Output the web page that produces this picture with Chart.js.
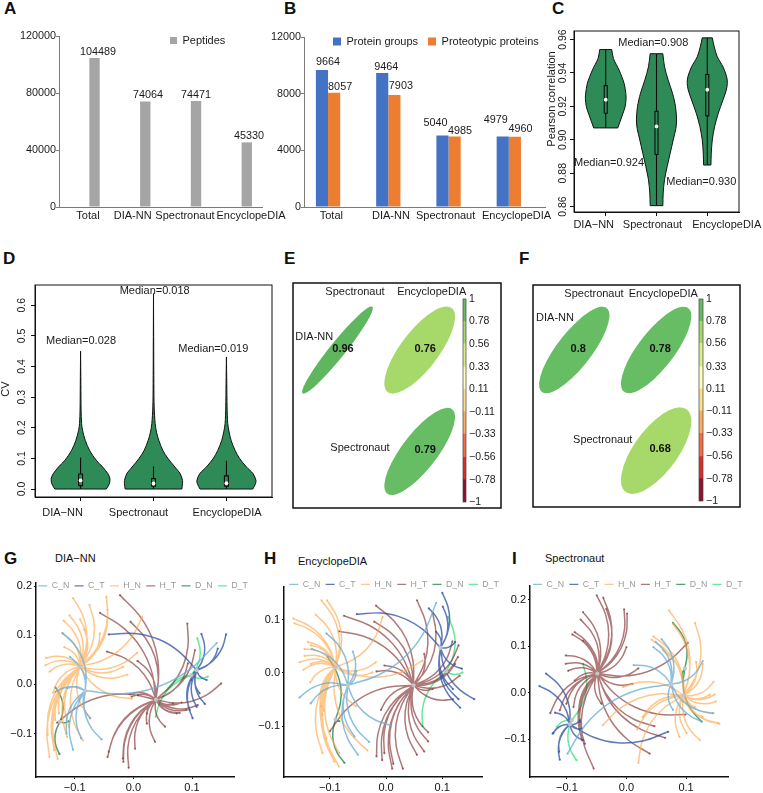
<!DOCTYPE html>
<html><head><meta charset="utf-8">
<style>
html,body{margin:0;padding:0;background:#fff;width:763px;height:793px;overflow:hidden;position:relative}
canvas{position:absolute}
.t{position:absolute;white-space:pre;line-height:1;font-family:"Liberation Sans",Arial,sans-serif;color:#111}
</style>
<script src="https://cdn.jsdelivr.net/npm/chart.js@4/dist/chart.umd.min.js"></script>
</head><body>
<script>
// ---------- data ----------
const tools = ['Total','DIA-NN','Spectronaut','EncyclopeDIA'];
const peptides = [104489,74064,74471,45330];
const proteinGroups = [9664,9464,5040,4979];
const proteotypic = [8057,7903,4985,4960];
const rTools = ['DIA\u2212NN','Spectronaut','EncyclopeDIA'];

const cY1=[.954,.9487,.9417,.9338,.9278,.9248,.9198,.9149,.9071];
const cW1=[.118,.151,.263,.362,.395,.401,.382,.329,.237];
const cY2=[.9515,.9437,.9357,.9278,.9198,.9119,.9069,.8999,.892,.8841,.8761,.8682,.8606];
const cW2=[.125,.158,.23,.316,.375,.395,.382,.329,.27,.211,.158,.132,.125];
const cY3=[.961,.9556,.9497,.9437,.9377,.9338,.9298,.9238,.9159,.9079,.8999,.892,.8849];
const cW3=[.099,.138,.197,.309,.382,.395,.375,.309,.217,.145,.099,.079,.072];
const cMedian=[.924,.908,.930], cQ1=[.9159,.8912,.9143], cQ3=[.9324,.9171,.9391];

const dY1=[0,.017,.034,.05,.072,.094,.126,.159,.192,.214,.258,.342,.45];
const dW1=[.353,.394,.403,.375,.302,.215,.124,.064,.027,.014,.007,.004,0];
const dY2=[0,.017,.028,.05,.072,.099,.126,.159,.186,.214,.268,.344,.453,.638];
const dW2=[.389,.398,.398,.366,.293,.201,.128,.073,.041,.023,.009,.005,.003,0];
const dY3=[0,.017,.028,.05,.072,.099,.126,.159,.186,.214,.268,.344,.431];
const dW3=[.362,.398,.405,.366,.275,.183,.119,.064,.037,.018,.009,.005,0];
const dMedian=[.028,.018,.019], dQ1=[.011,.009,.009], dQ3=[.049,.034,.043], dWhisk=[.103,.074,.092];

const corrE=[.96,.76,.79], corrF=[.8,.78,.68];
const corrCol=[1,2,2], corrRow=[1,1,2];
const corrColorsE=['#5fb65f','#a6d96a','#66bd63'], corrColorsF=['#66bd63','#66bd63','#a6d96a'];
const barBreaks=[-1,-.78,-.56,-.33,-.11,.11,.33,.56,.78,1];
const barTicks=['\u22121','\u22120.78','\u22120.56','\u22120.33','\u22120.11','0.11','0.33','0.56','0.78','1'];
const barColors=['#8f0f2e','#d73027','#f46d43','#fdae61','#fee08b','#ffffbf','#d9ef8b','#a6d96a','#66bd63'];

const seriesNames=['C_N','C_T','H_N','H_T','D_N','D_T'];
const seriesColors=['rgba(107,174,214,.78)','rgba(50,85,165,.78)','rgba(253,172,85,.68)','rgba(125,38,38,.62)','rgba(46,139,87,.82)','rgba(70,232,138,.85)'];

const gHubs=[[-.082,-.013],[.108,.029],[-.091,.037],[.0385,-.031],[-.125,-.076],[.099,.019]];
const gCN=[[-.121,.105],[-.108,.056],[.142,.084],[-.133,-.015],[-.113,-.008],[-.054,-.112],[-.103,-.133],[-.089,-.11],[-.114,-.1],[-.074,-.069]];
const gCT=[[-.042,.102],[.116,.103],[.158,.102],[.144,.073],[.099,.009],[.101,-.069],[.122,-.04],[.108,-.046],[.113,-.018],[.096,-.052],[.125,.009]];
const gHN=[[-.103,.176],[-.119,.13],[-.121,.104],[-.109,.141],[-.091,.133],[-.075,.162],[-.046,.179],[-.044,.152],[-.084,.112],[-.057,.104],[.015,.137],[.007,.065],[-.01,.02],[-.017,.036],[-.118,.076],[-.149,.054],[-.15,.039],[-.143,.026],[-.137,-.017],[-.146,-.103],[-.143,-.148],[-.129,-.152],[-.135,-.134],[-.113,-.107],[-.086,-.114],[-.073,-.069],[-.003,-.029],[-.133,-.073],[-.127,-.059],[-.136,-.114],[-.11,-.086]];
const gHT=[[-.023,.182],[-.057,.146],[-.005,.128],[-.045,.067],[.007,.048],[.092,.124],[.105,.07],[.093,.043],[.15,.002],[.11,-.042],[.091,-.052],[.074,-.059],[.082,-.037],[.079,-.058],[.054,-.086],[.037,-.117],[.023,-.08],[.003,-.131],[-.008,-.17],[-.017,-.158],[-.018,-.151],[-.044,-.148],[-.042,-.137],[-.006,-.02],[.008,-.022],[-.13,-.078],[-.003,-.025],[.068,-.039],[.023,-.059]];
const gDN=[[-.133,-.006],[-.126,-.142],[-.11,-.075]];
const gDT=[[.109,.094],[.051,-.025],[.127,.016],[.038,-.066]];

const hHubs=[[-.068,-.023],[.097,.047],[-.09,.011],[.049,-.023],[-.09,-.087],[.107,.003]];
const hCN=[[.089,.131],[-.106,.074],[-.059,.04],[-.132,.045],[-.154,-.046],[-.134,-.057],[.009,-.098],[-.03,-.129],[-.05,-.153],[-.056,-.119],[-.053,.004]];
const hCT=[[-.052,.11],[.1,.15],[.076,.121],[.101,.124],[.123,.058],[.135,.008],[.157,-.049],[.132,-.065],[.129,-.049],[.119,-.03],[.089,.077]];
const hHN=[[-.115,.136],[-.105,.136],[-.125,.109],[-.165,.102],[-.163,.093],[-.006,.105],[-.139,.058],[-.134,.052],[-.145,.045],[-.145,.032],[-.154,.02],[-.134,.017],[-.147,.006],[-.135,-.018],[-.018,.02],[-.024,.001],[.065,.023],[-.116,-.062],[-.11,-.071],[-.113,-.15],[-.092,-.166],[-.084,-.175],[-.106,-.122],[-.033,-.145],[-.053,-.062],[-.083,-.15],[-.104,-.03],[-.113,-.078]];
const hHT=[[.055,.136],[-.018,.126],[-.075,.107],[-.021,.096],[-.084,.078],[-.003,.014],[-.017,.003],[.083,.112],[.068,.036],[.118,.059],[.129,.052],[.128,.03],[.123,.017],[.119,-.049],[.131,-.005],[.083,-.03],[-.009,-.069],[-.1,-.109],[.075,-.128],[.075,-.111],[.068,-.147],[.055,-.153],[.03,-.179],[.011,-.179],[.013,-.17],[-.007,-.163],[-.017,-.156],[-.003,-.15]];
const hDN=[[-.104,.03],[-.074,-.168],[-.083,-.09]];
const hDT=[[.11,.105],[.136,.001],[.065,-.1]];

const iHubs=[[.075,.018],[-.095,-.068],[.096,-.006],[-.049,.041],[.098,.052],[-.092,-.059]];
const iCN=[[.128,.068],[.012,.059],[.059,.115],[.049,.109],[.078,-.037],[.145,-.044],[.126,-.062],[-.099,-.131],[.045,.098]];
const iCT=[[-.135,.041],[-.146,.014],[-.12,-.043],[-.124,-.088],[-.123,-.087],[-.113,-.127],[-.112,-.144],[.07,-.084],[-.078,-.059],[-.073,-.102],[-.075,-.077]];
const iHN=[[.071,.177],[.115,.15],[.045,.121],[.042,.114],[.078,.148],[.061,.091],[.128,.062],[.146,.023],[.148,-.004],[.15,-.019],[.14,-.004],[.146,-.044],[.156,-.067],[.154,-.065],[.123,-.102],[.089,-.095],[.101,-.087],[.02,-.151],[-.04,-.07],[.018,-.079],[-.006,.012],[.027,-.052],[.117,.066],[.115,-.031],[.128,-.052]];
const iHT=[[-.05,.209],[-.039,.204],[-.034,.18],[-.073,.173],[-.077,.157],[-.004,.179],[.001,.17],[0,.098],[-.087,.13],[-.091,.125],[-.073,.112],[-.102,.08],[-.102,.062],[-.098,.047],[-.087,.026],[.01,.019],[.02,.052],[.103,.107],[.099,-.047],[.047,-.072],[.065,-.097],[.039,-.131],[-.042,-.024],[-.055,-.163],[-.07,-.11],[-.075,-.102],[-.128,-.044],[-.112,-.038],[-.101,-.024],[-.089,-.031],[-.078,-.063]];
const iDN=[[.078,.15],[.126,-.062],[.095,.026]];
const iDT=[[-.073,.062],[-.084,-.145],[-.117,-.074]];

// ---------- helpers ----------
const FONT='"Liberation Sans",Arial,sans-serif';
Chart.defaults.font.family=FONT; Chart.defaults.font.size=11; Chart.defaults.color='#1a1a1a';
Chart.defaults.animation=false; Chart.defaults.responsive=false;
Chart.defaults.plugins.tooltip.enabled=false;
Chart.defaults.plugins.legend.display=false;
Chart.defaults.events=[];

function dom(text,x,base,size,bold){const d=document.createElement('div');d.className='t';d.textContent=text;
 d.style.left=x+'px';d.style.top=(base-.8465*size)+'px';d.style.fontSize=size+'px';if(bold)d.style.fontWeight='bold';document.body.appendChild(d);}
function place(r,m){const c=document.createElement('canvas');const ox=r.l-m.l,oy=r.t-m.t;
 c.width=r.r-r.l+m.l+m.r;c.height=r.b-r.t+m.t+m.b;c.style.left=ox+'px';c.style.top=oy+'px';document.body.appendChild(c);
 return {c,ox,oy,m};}
const fixY=w=>s=>{s.width=w;s.paddingTop=s.paddingBottom=0;};
const fixX=h=>s=>{s.height=h;s.paddingLeft=s.paddingRight=0;};
const texts=(o,items)=>({id:'texts',afterDatasetsDraw(ch){const x=ch.ctx;items.forEach(t=>{x.save();
  x.font=(t.bold?'bold ':'')+(t.size||11)+'px '+FONT;x.fillStyle=t.color||'#1a1a1a';x.textAlign='center';x.textBaseline='middle';
  x.translate(t.x-o.ox,t.y-o.oy);if(t.rot)x.rotate(t.rot);x.fillText(t.s,0,0);x.restore();});}});
const frame=(w,color)=>({id:'frame',afterDraw(ch){const a=ch.chartArea,x=ch.ctx;x.save();x.lineWidth=w;x.strokeStyle=color||'#111';
  x.strokeRect(a.left,a.top,a.right-a.left,a.bottom-a.top);x.restore();}});
const polyFill={id:'polyFill',beforeDatasetDraw(ch,{meta}){const col=meta._dataset.polyFill;if(!col)return;const x=ch.ctx;
  meta.dataset.updateControlPoints(ch.chartArea);x.save();x.beginPath();meta.dataset.path(x);x.closePath();x.fillStyle=col;x.fill();x.restore();}};
const nudge=(id,fn)=>({id:'nudge'+id,beforeDraw(ch){const items=ch.scales[id].getLabelItems();if(items._n)return;items._n=1;items.forEach(fn);}});
const pinLegend=(o,x,y)=>({id:'pinLegend',
  beforeLayout(ch){const l=ch.legend;if(l._w)return;l._w=1;const f=l.fit.bind(l);l.fit=function(){f();l.height=0;};},
  afterLayout(ch){const l=ch.legend;l.left=x-o.ox-l.options.labels.padding;l.right=l.left+2000;l.top=y-o.oy-l.options.labels.padding;l.bottom=l.top+60;}});
const barLabels=(spec)=>({id:'barLabels',afterDatasetsDraw(ch){const x=ch.ctx;x.save();x.font='10.8px '+FONT;x.fillStyle='#1a1a1a';x.textAlign='center';x.textBaseline='middle';
  spec.forEach(s=>{const m=ch.getDatasetMeta(s.ds);ch.data.datasets[s.ds].data.forEach((v,i)=>{const e=m.data[i];x.fillText(String(v),e.x+s.dx[i],e.y+s.dy[i]);});});x.restore();}});

// ---------- panel letters and titles ----------
[['A',4,14],['B',284,14],['C',552,14],['D',3,264],['E',284,264],['F',519,264],['G',4,564],['H',264,564],['I',512,564]].forEach(a=>dom(a[0],a[1],a[2],17,true));
dom('DIA\u2212NN',55,562.5,11);dom('EncyclopeDIA',298,565.5,11);dom('Spectronaut',545,562,11);

// ---------- A and B ----------
const AXIS='#7a7a7a';
function barAxis(max,step,w,h){return {
  x:{type:'category',afterFit:fixX(h),grid:{display:false,drawTicks:false},border:{color:AXIS,width:1},ticks:{autoSkip:false,maxRotation:0,minRotation:0,padding:2,font:{size:11}}},
  y:{min:0,max,afterFit:fixY(w),afterBuildTicks:s=>{const t=[];for(let v=0;v<=max;v+=step)t.push({value:v});s.ticks=t;},
     grid:{drawOnChartArea:false,tickLength:3,color:AXIS},border:{color:AXIS,width:1},ticks:{padding:0,font:{size:10.8},callback:v=>String(v)}}};}
(function(){const r={l:59,t:36,r:262,b:207},m={l:50,t:6,r:30,b:24},o=place(r,m);
 const dx=[3.6,-2.4,-.9,14.4];
 new Chart(o.c,{type:'bar',data:{labels:tools,datasets:[
   {label:'',data:[null,null,null,null],backgroundColor:'transparent'},
   {label:'Peptides',data:peptides,backgroundColor:'#a5a5a5',borderWidth:0}]},
  options:{categoryPercentage:.8,barPercentage:.51,layout:{padding:{top:m.t,right:m.r}},scales:barAxis(120000,40000,m.l,m.b),
   plugins:{legend:{display:true,position:'top',align:'start',labels:{boxWidth:7,boxHeight:7,padding:10,font:{size:11},filter:i=>!!i.text}}}},
  plugins:[pinLegend(o,170,35),barLabels([{ds:1,dx:[3.4,2.7,0,2.3],dy:[-6,-6,-6,-6]}]),nudge('x',(it,i)=>{it.options.translation[0]+=dx[i];})]});
})();
(function(){const r={l:304,t:37,r:545,b:207},m={l:40,t:6,r:8,b:24},o=place(r,m);
 const dx=[-2.8,-3.4,-9,1.7];
 new Chart(o.c,{type:'bar',data:{labels:tools,datasets:[
   {label:'Protein groups',data:proteinGroups,backgroundColor:'#4472c4',borderWidth:0},
   {label:'Proteotypic proteins',data:proteotypic,backgroundColor:'#ed7d31',borderWidth:0},
   {label:'',data:[null,null,null,null],backgroundColor:'transparent'}]},
  options:{categoryPercentage:.605,barPercentage:1,layout:{padding:{top:m.t,right:m.r}},scales:barAxis(12000,4000,m.l,m.b),
   plugins:{legend:{display:true,position:'top',align:'start',labels:{boxWidth:8,boxHeight:8,padding:10,font:{size:11},filter:i=>!!i.text}}}},
  plugins:[pinLegend(o,333,36),
   barLabels([{ds:0,dx:[6,4,-7,-7],dy:[-8,-6,-12.6,-16]},{ds:1,dx:[6,6.5,5.3,5.7],dy:[-6,-8.7,-5.7,-7.5]}]),
   nudge('x',(it,i)=>{it.options.translation[0]+=dx[i];})]});
})();

// ---------- violins C and D ----------
function violinOutline(cx,ys,ws){const a=[];const n=ys.length;
 a.push({x:cx+ws[0],y:ys[0]});ys.forEach((y,i)=>a.push({x:cx+ws[i],y}));a.push({x:cx+ws[n-1],y:ys[n-1]});
 a.push({x:cx-ws[n-1],y:ys[n-1]});for(let i=n-1;i>=0;i--)a.push({x:cx-ws[i],y:ys[i]});a.push({x:cx-ws[0],y:ys[0]});a.push({x:cx+ws[0],y:ys[0]});return a;}
function violinSets(viol,med,q1,q3,wLo,wHi,bw){const ds=[];
 ds.push({data:med.map((v,i)=>({x:i+1,y:v})),showLine:false,pointRadius:1.9,pointBackgroundColor:'#fff',pointBorderWidth:0,clip:false});
 med.forEach((v,i)=>{const c=i+1;ds.push({data:[{x:c-bw,y:q1[i]},{x:c+bw,y:q1[i]},{x:c+bw,y:q3[i]},{x:c-bw,y:q3[i]},{x:c-bw,y:q1[i]}],showLine:true,polyFill:'#2e8b57',borderColor:'#0c0c0c',borderWidth:1.1,pointRadius:0,tension:0});});
 med.forEach((v,i)=>{ds.push({data:[{x:i+1,y:wLo[i]},{x:i+1,y:wHi[i]}],showLine:true,borderColor:'#0c0c0c',borderWidth:1.1,pointRadius:0,tension:0});});
 viol.forEach(a=>ds.push({data:a,showLine:true,polyFill:'#2e8b57',borderColor:'#111',borderWidth:1,pointRadius:0,tension:.3,capBezierPoints:false,clip:false}));
 return ds;}
function rAxes(m,ymin,ymax,yticks,fmt){return {
  x:{type:'linear',min:.375,max:3.625,afterFit:fixX(m.b),afterBuildTicks:s=>{s.ticks=rTools.map((n,i)=>({value:i+1}));},
     grid:{drawOnChartArea:false,tickLength:4,color:'#111'},border:{color:'#111',width:1},
     ticks:{autoSkip:false,maxRotation:0,padding:2,font:{size:11},callback:v=>rTools[v-1]}},
  y:{min:ymin,max:ymax,afterFit:fixY(m.l),afterBuildTicks:s=>{s.ticks=yticks.map(v=>({value:v}));},
     grid:{drawOnChartArea:false,tickLength:4,color:'#111'},border:{color:'#111',width:1},
     ticks:{autoSkip:false,padding:2,font:{size:10.5},callback:fmt}}};}
const rotY=(o,px)=>nudge('y',it=>{it.options.rotation=-Math.PI/2;it.options.textAlign='center';it.options.textBaseline='middle';it.textOffset=0;it.options.translation=[px-o.ox,it.options.translation[1]];});
(function(){const r={l:574,t:31,r:739,b:212},m={l:30,t:4,r:24,b:20},o=place(r,m);
 const dx=[-12,-4,19.4];
 new Chart(o.c,{type:'scatter',data:{datasets:violinSets([violinOutline(1,cY1,cW1),violinOutline(2,cY2,cW2),violinOutline(3,cY3,cW3)],cMedian,cQ1,cQ3,[cY1[8],cY2[12],cY3[12]],[cY1[0],cY2[0],cY3[0]],.03)},
  options:{layout:{padding:{top:m.t,right:m.r}},scales:rAxes(m,.8568,.9651,[.86,.88,.90,.92,.94,.96],v=>v.toFixed(2))},
  plugins:[polyFill,frame(1),rotY(o,563),nudge('x',(it,i)=>{it.options.translation[0]+=dx[i];}),
   texts(o,[{s:'Pearson correlation',x:552,y:99,rot:-Math.PI/2},{s:'Median=0.908',x:653.3,y:43.3},{s:'Median=0.924',x:609,y:162.7},{s:'Median=0.930',x:701.3,y:182.3}])]});
})();
(function(){const r={l:35,t:285,r:272,b:497},m={l:34,t:4,r:10,b:24},o=place(r,m);
 const dx=[-18,-15,.7];
 new Chart(o.c,{type:'scatter',data:{datasets:violinSets([violinOutline(1,dY1,dW1),violinOutline(2,dY2,dW2),violinOutline(3,dY3,dW3)],dMedian,dQ1,dQ3,[0,0,0],dWhisk,.027)},
  options:{layout:{padding:{top:m.t,right:m.r}},scales:rAxes(m,-.026,.666,[0,.1,.2,.3,.4,.5,.6],v=>v.toFixed(1))},
  plugins:[polyFill,frame(1),rotY(o,22),nudge('x',(it,i)=>{it.options.translation[0]+=dx[i];it.options.translation[1]+=3;}),
   texts(o,[{s:'CV',x:6,y:389,rot:-Math.PI/2},{s:'Median=0.028',x:81,y:340.7},{s:'Median=0.018',x:154.7,y:291},{s:'Median=0.019',x:213.3,y:349}])]});
})();

// ---------- correlation ellipses E and F ----------
function corrPanel(rect,xr,yr,vals,colors,labs,lx,ly){
 const m={l:1,t:1,r:1,b:1},o=place(rect,m);
 const ell={id:'ell',afterDatasetsDraw(ch){const x=ch.ctx,meta=ch.getDatasetMeta(0),sx=ch.scales.x,sy=ch.scales.y;
   const a=(sx.getPixelForValue(1.43)-sx.getPixelForValue(1)),b=(sy.getPixelForValue(1.43)-sy.getPixelForValue(1));
   vals.forEach((v,i)=>{const p=meta.data[i],d=Math.acos(v)/2;x.save();x.translate(p.x,p.y);x.scale(a,b);x.rotate(-Math.PI/4);x.beginPath();
     x.ellipse(0,0,Math.SQRT2*Math.cos(d),Math.SQRT2*Math.sin(d),0,0,Math.PI*2);x.restore();x.fillStyle=colors[i];x.fill();
     x.font='bold 11px '+FONT;x.fillStyle='#111';x.textAlign='center';x.textBaseline='middle';x.fillText(String(v),p.x+lx,p.y+ly);});}};
 new Chart(o.c,{type:'scatter',data:{datasets:[{data:vals.map((v,i)=>({x:corrCol[i],y:corrRow[i]})),pointRadius:0}]},
  options:{layout:{padding:1},scales:{x:{display:false,min:xr[0],max:xr[1]},y:{display:false,reverse:true,min:yr[0],max:yr[1]}}},
  plugins:[ell,frame(1.5,'#111'),texts(o,labs)]});
}
function colorBar(rect){const m={l:1,t:8,r:44,b:8},o=place(rect,m);
 new Chart(o.c,{type:'bar',data:{labels:[''],datasets:barColors.map((col,i)=>({data:[[barBreaks[i],barBreaks[i+1]]],backgroundColor:col,borderWidth:0,grouped:false,barPercentage:1,categoryPercentage:1}))},
  options:{layout:{padding:{top:m.t,bottom:m.b,left:m.l}},scales:{x:{display:false},
   y:{position:'right',min:-1,max:1,afterFit:fixY(m.r),afterBuildTicks:s=>{s.ticks=barBreaks.map(v=>({value:v}));},
      grid:{display:false,drawTicks:false},border:{display:false},ticks:{autoSkip:false,padding:3,font:{size:10.5},callback:(v,i)=>barTicks[i]}}}},
  plugins:[frame(.7,'#444')]});
}
corrPanel({l:293,t:283,r:501,b:508},[.459,2.989],[.339,2.558],corrE,corrColorsE,
 [{s:'Spectronaut',x:355,y:291.7},{s:'EncyclopeDIA',x:431.7,y:291.7},{s:'DIA-NN',x:314.3,y:336.7},{s:'Spectronaut',x:360,y:448.3}],5.5,-1);
colorBar({l:463,t:299,r:466,b:502});
corrPanel({l:533,t:285,r:740,b:507},[.496,3.024],[.354,2.56],corrF,corrColorsF,
 [{s:'Spectronaut',x:594,y:294.3},{s:'EncyclopeDIA',x:663.3,y:294.3},{s:'DIA-NN',x:555,y:318},{s:'Spectronaut',x:602.7,y:440.3}],4,-1.5);
colorBar({l:699,t:299,r:703,b:501});

// ---------- curved networks G H I ----------
const BEND=.15, STOPS=[.25,.5,.75];
function curves(hub,ends,aspect){const out=[];ends.forEach(e=>{const dx=e[0]-hub[0],dy=e[1]-hub[1];
  out.push({x:hub[0],y:hub[1]});
  STOPS.forEach(t=>{const k=BEND*4*t*(1-t);out.push({x:hub[0]+dx*t+k*dy/aspect,y:hub[1]+dy*t-k*dx*aspect});});
  out.push({x:e[0],y:e[1]},{x:null,y:null});});return out;}
function network(rect,xr,yr,xt,yt,aspect,hubs,sets,lx,ly){
 const m={l:30,t:12,r:24,b:16},o=place(rect,m);
 const fmt=v=>(v<0?'\u2212':'')+Math.abs(v).toFixed(1);
 const ds=[{label:'',data:hubs.map(h=>({x:h[0],y:h[1]})),showLine:false,pointRadius:2.1,pointBackgroundColor:'#c4c4c4',pointBorderWidth:0,clip:false}];
 sets.forEach((ends,i)=>ds.push({label:seriesNames[i],data:curves(hubs[i],ends,aspect),showLine:true,tension:.4,capBezierPoints:false,spanGaps:false,borderColor:seriesColors[i],backgroundColor:seriesColors[i],borderWidth:1.5,
   pointRadius:c=>c.index%6===4?1.1:0,pointBackgroundColor:seriesColors[i],pointBorderColor:seriesColors[i],pointBorderWidth:c=>c.index===0?1.4:0,clip:false}));
 new Chart(o.c,{type:'scatter',data:{datasets:ds},options:{layout:{padding:{top:m.t,right:m.r}},
  scales:{
   x:{min:xr[0],max:xr[1],afterFit:fixX(m.b),afterBuildTicks:s=>{s.ticks=xt.map(v=>({value:v}));},grid:{drawOnChartArea:false,tickLength:2,color:'#111'},border:{color:'#111',width:1.5},ticks:{autoSkip:false,maxRotation:0,padding:2,color:'#111',font:{size:11},callback:fmt}},
   y:{min:yr[0],max:yr[1],afterFit:fixY(m.l),afterBuildTicks:s=>{s.ticks=yt.map(v=>({value:v}));},grid:{drawOnChartArea:false,tickLength:2,color:'#111'},border:{color:'#111',width:1.5},ticks:{autoSkip:false,padding:2,color:'#111',font:{size:11},callback:fmt}}},
  plugins:{legend:{display:true,position:'top',align:'start',labels:{usePointStyle:true,pointStyle:'line',pointStyleWidth:9,boxHeight:6,padding:5.3,color:'#9a9a9a',font:{size:8.8},filter:i=>!!i.text}}}},
  plugins:[pinLegend(o,lx,ly)]});
}
network({l:36,t:583,r:234,b:777},[-.166,.1716],[-.1886,.2067],[-.1,0,.1],[-.1,0,.1,.2],1.2,gHubs,[gCN,gCT,gHN,gHT,gDN,gDT],38.3,581.5);
network({l:284,t:587,r:482,b:777},[-.1815,.1707],[-.1945,.1608],[-.1,0,.1],[-.1,0,.1],1.06,hHubs,[hCN,hCT,hHN,hHT,hDN,hDT],289.3,580);
network({l:530,t:586,r:728,b:777},[-.162,.1704],[-.1811,.2291],[-.1,0,.1],[-.1,0,.1,.2],1.28,iHubs,[iCN,iCT,iHN,iHT,iDN,iDT],533,580);
</script>
</body></html>
